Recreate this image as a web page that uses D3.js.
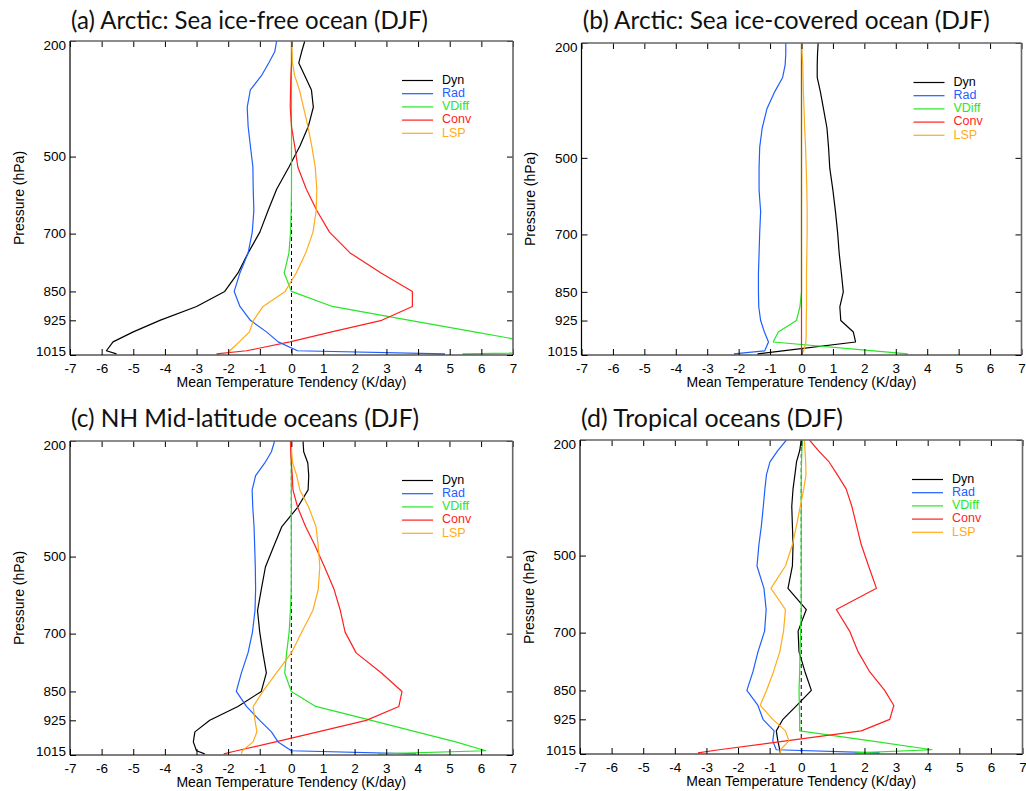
<!DOCTYPE html>
<html><head><meta charset="utf-8">
<script src="https://cdn.jsdelivr.net/npm/d3@7"></script>
<style>body{margin:0;background:#fff}svg{display:block}</style>
</head><body><svg id="c" width="1026" height="791"></svg>
<script>
// ---------------- data ----------------
const levels = [200,228,257,290,327,372,422,472,527,585,640,696,750,802,850,889,925,955,981,1004,1012];
const xTicks = [-7,-6,-5,-4,-3,-2,-1,0,1,2,3,4,5,6,7];
const yTicks = [200,500,700,850,925,1015];
const seriesNames = ["Dyn","Rad","VDiff","Conv","LSP"];
const seriesColors = ["#000000","#1f5eff","#26e626","#ff1f1f","#ffab1a"];
const titles = ["(a) Arctic: Sea ice-free ocean (DJF)","(b) Arctic: Sea ice-covered ocean (DJF)","(c) NH Mid-latitude oceans (DJF)","(d) Tropical oceans (DJF)"];
const xTitle = "Mean Temperature Tendency (K/day)";
const yTitle = "Pressure (hPa)";

// (a) Arctic ice-free
const dynA  = [0.42,0.32,0.23,0.42,0.63,0.69,0.53,0.27,-0.08,-0.47,-0.74,-1.0,-1.37,-1.69,-2.11,-3.0,-4.16,-5.0,-5.64,-5.85,-5.53];
const radA  = [-0.47,-0.53,-0.72,-0.95,-1.3,-1.4,-1.37,-1.3,-1.22,-1.21,-1.19,-1.24,-1.37,-1.63,-1.81,-1.63,-1.3,-0.79,-0.42,0.19,4.85];
const vdiffA= [0,0,0,0,0,0,0,0,0,0,-0.01,-0.03,-0.08,-0.23,0,1.29,3.74,5.78,7.55,12,5.4];
const convA = [0,0,0,-0.02,-0.03,-0.04,0,0.1,0.2,0.47,0.8,1.2,1.85,2.83,3.82,3.82,2.85,1.27,-0.05,-1.42,-2.37];
const lspA  = [0,0.02,0.03,0.1,0.25,0.38,0.52,0.64,0.75,0.8,0.78,0.68,0.45,0.15,-0.2,-0.9,-1.2,-1.33,-1.65,-1.95,-2.0];
// (b) Arctic ice-covered
const dynB  = [0.53,0.51,0.5,0.5,0.6,0.7,0.81,0.86,0.9,1.0,1.08,1.15,1.2,1.27,1.33,1.22,1.25,1.65,1.72,-0.6,-1.4];
const radB  = [-0.5,-0.5,-0.52,-0.6,-0.85,-1.1,-1.25,-1.33,-1.35,-1.35,-1.3,-1.33,-1.35,-1.37,-1.37,-1.36,-1.3,-1.18,-1.05,-1.17,-2.15];
const vdiffB= [0,0,0,0,0,0,0,0,0,0,0,0,0,0,0,-0.05,-0.16,-0.74,-0.9,2.3,3.38];
const convB = [0,0,0,0,0,0,0,0,0,0,0,0,0,0,0,0,0,0,0,0,0];
const lspB  = [0,0.02,0.04,0.05,0.06,0.08,0.1,0.13,0.15,0.17,0.18,0.18,0.17,0.16,0.16,0.16,0.15,0.15,0.14,0.07,0.02];
// (c) NH mid-latitude
const dynC  = [0.37,0.39,0.52,0.55,0.53,0.2,-0.3,-0.55,-0.82,-0.95,-1.07,-1.0,-0.9,-0.79,-0.95,-1.69,-2.58,-3.05,-3.1,-3.0,-2.74];
const radC  = [-0.53,-0.63,-0.84,-1.13,-1.24,-1.22,-1.18,-1.16,-1.14,-1.13,-1.15,-1.23,-1.37,-1.58,-1.74,-1.42,-1.0,-0.63,-0.42,0.0,3.95];
const vdiffC= [0,0,0,0,0,0,0,0,0,0,-0.03,-0.07,-0.15,-0.21,0,0.77,2.53,3.95,5.2,6.15,2.74];
const convC = [-0.03,-0.02,0,0.03,0.05,0.2,0.45,0.75,1.05,1.35,1.55,1.7,2.05,2.85,3.5,3.4,2.37,0.84,-0.5,-1.73,-2.14];
const lspC  = [0,0.01,0.04,0.17,0.27,0.55,0.78,0.85,0.9,0.85,0.68,0.33,0,-0.47,-0.9,-1.21,-1.15,-1.09,-1.21,-1.55,-1.58];
// (d) Tropical
const dynD  = [0,-0.05,-0.15,-0.2,-0.26,-0.3,-0.28,-0.26,-0.28,-0.42,0.16,-0.1,-0.07,0.12,0.32,-0.14,-0.58,-0.79,-0.74,-0.68,-0.66];
const radD  = [-0.47,-0.75,-0.99,-1.1,-1.15,-1.2,-1.26,-1.34,-1.4,-1.18,-1.11,-1.16,-1.37,-1.53,-1.72,-1.37,-1.21,-0.86,-0.9,-0.79,2.48];
const vdiffD= [0.03,0.02,0.01,0,0,0,0,0,0,0,0,-0.02,-0.04,-0.05,-0.07,-0.06,-0.05,-0.05,2.2,4.14,1.7];
const convD = [0.26,0.55,0.88,1.14,1.42,1.6,1.75,1.9,2.13,2.38,1.11,1.53,1.8,2.17,2.64,2.93,2.8,1.9,-0.48,-2.6,-3.27];
const lspD  = [0.1,0.12,0.14,0.15,0.08,-0.03,-0.15,-0.28,-0.5,-0.96,-0.5,-0.56,-0.68,-0.88,-1.1,-1.3,-0.9,-0.5,-0.39,-0.66,-0.65];

const panelSeries = [
  [dynA,radA,vdiffA,convA,lspA],
  [dynB,radB,vdiffB,convB,lspB],
  [dynC,radC,vdiffC,convC,lspC],
  [dynD,radD,vdiffD,convD,lspD]
];

// ---------------- layout ----------------
const layout = [
  {left:70,    right:513,    top:41,  bottom:355, tx:71,    ty:28.5, tw:357},
  {left:581.5, right:1021.5, top:43,  bottom:355, tx:582.7, ty:28.5, tw:407},
  {left:70,    right:512.7,  top:441, bottom:755, tx:71,    ty:427,  tw:348},
  {left:580,   right:1022.5, top:440, bottom:754, tx:581,   ty:427,  tw:262}
];
const axisFont = "'Liberation Sans', Arial, Helvetica, sans-serif";
const svg = d3.select("#c");

layout.forEach((L, pi) => {
  const g = svg.append("g");
  const x = d3.scaleLinear().domain([-7, 7]).range([L.left, L.right]);
  const y = d3.scaleLinear().domain([200, 1015]).range([L.top, L.bottom]);

  // title
  g.append("text").attr("x", L.tx).attr("y", L.ty)
    .attr("font-family", "Lato, 'Open Sans', sans-serif").attr("font-size", 25)
    .attr("textLength", L.tw).attr("lengthAdjust", "spacingAndGlyphs")
    .attr("fill", "#111").text(titles[pi]);

  const clipId = "clip" + pi;
  svg.append("clipPath").attr("id", clipId).append("rect")
    .attr("x", L.left).attr("y", L.top).attr("width", L.right - L.left).attr("height", L.bottom - L.top);

  // zero dashed line
  g.append("line").attr("x1", x(0)).attr("x2", x(0)).attr("y1", y(200)).attr("y2", y(1015))
    .attr("stroke", "#000").attr("stroke-width", 1).attr("stroke-dasharray", "4,3");

  const line = d3.line().x(d => x(d.v)).y(d => y(d.p));
  const lg = g.append("g").attr("clip-path", `url(#${clipId})`);
  panelSeries[pi].forEach((vals, si) => {
    const pts = vals.map((v, i) => ({v: v, p: levels[i]}));
    lg.append("path").datum(pts).attr("d", line)
      .attr("fill", "none").attr("stroke", seriesColors[si]).attr("stroke-width", 1.2)
      .attr("stroke-linejoin", "round");
  });

  // axes
  const bottomAx = g.append("g").attr("transform", `translate(0,${L.bottom})`)
    .call(d3.axisBottom(x).tickValues(xTicks).tickSize(-6).tickSizeOuter(0).tickPadding(8)
      .tickFormat(d => (d < 0 ? "-" + Math.abs(d) : String(d))));
  const leftAx = g.append("g").attr("transform", `translate(${L.left},0)`)
    .call(d3.axisLeft(y).tickValues(yTicks).tickSize(-6).tickSizeOuter(0).tickPadding(4)
      .tickFormat(d => String(d)));
  g.append("g").attr("transform", `translate(0,${L.top})`)
    .call(d3.axisTop(x).tickValues(xTicks).tickSize(-6).tickSizeOuter(0).tickFormat(""));
  g.append("g").attr("transform", `translate(${L.right},0)`)
    .call(d3.axisRight(y).tickValues(yTicks).tickSize(-6).tickSizeOuter(0).tickFormat(""));
  g.selectAll(".domain").remove();
  g.selectAll(".tick line").attr("stroke", "#000");
  [bottomAx, leftAx].forEach(a => a.selectAll("text")
    .attr("font-family", axisFont).attr("font-size", 13.5).attr("fill", "#000"));
  leftAx.selectAll(".tick text").attr("dy", d => d === 200 ? "0.6em" : (d === 1015 ? "0.05em" : "0.32em"));

  // box
  g.append("line").attr("x1", L.left).attr("x2", L.right).attr("y1", L.top).attr("y2", L.top)
    .attr("stroke", "#666").attr("stroke-width", 1.4);
  g.append("line").attr("x1", L.right).attr("x2", L.right).attr("y1", L.top).attr("y2", L.bottom)
    .attr("stroke", "#666").attr("stroke-width", 1.6);
  g.append("line").attr("x1", L.left).attr("x2", L.left).attr("y1", L.top).attr("y2", L.bottom)
    .attr("stroke", "#000").attr("stroke-width", 1.2);
  g.append("line").attr("x1", L.left).attr("x2", L.right).attr("y1", L.bottom).attr("y2", L.bottom)
    .attr("stroke", "#000").attr("stroke-width", 1.2);

  // axis titles
  g.append("text").attr("x", (L.left + L.right) / 2).attr("y", L.bottom + 28)
    .attr("text-anchor", "middle").attr("dominant-baseline", "middle")
    .attr("font-family", axisFont).attr("font-size", 14).attr("fill", "#000").text(xTitle);
  g.append("text").attr("transform", `translate(${L.left - 50},${(L.top + L.bottom) / 2}) rotate(-90)`)
    .attr("text-anchor", "middle").attr("dominant-baseline", "middle")
    .attr("font-family", axisFont).attr("font-size", 14).attr("fill", "#000").text(yTitle);

  // legend
  seriesNames.forEach((name, si) => {
    const yy = L.top + 39.5 + si * 13.2;
    g.append("line").attr("x1", L.left + 332).attr("x2", L.left + 363).attr("y1", yy).attr("y2", yy)
      .attr("stroke", seriesColors[si]).attr("stroke-width", 1.2);
    g.append("text").attr("x", L.left + 372).attr("y", yy).attr("dominant-baseline", "middle")
      .attr("font-family", axisFont).attr("font-size", 12.5).attr("fill", seriesColors[si]).text(name);
  });
});
</script></body></html>
